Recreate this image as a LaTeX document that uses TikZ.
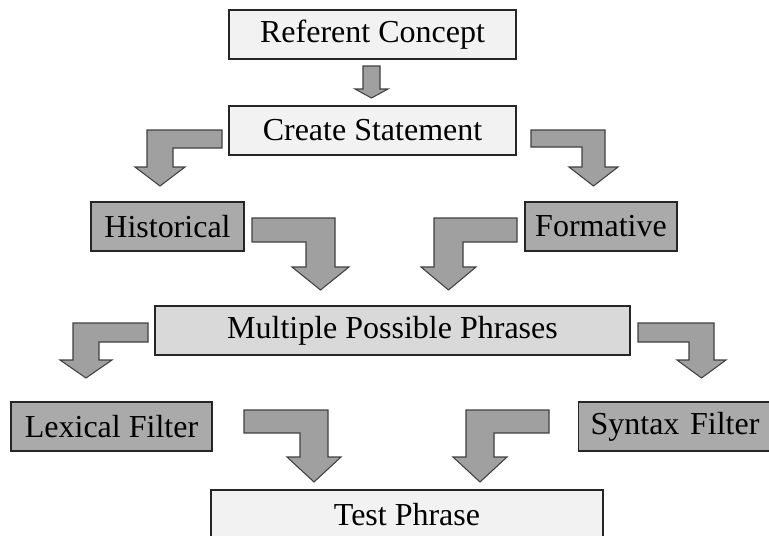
\documentclass[tikz,border=0pt]{standalone}
\usepackage{fontspec}
\setmainfont{Liberation Serif}
\definecolor{palebox}{HTML}{F2F2F2}
\definecolor{midbox}{HTML}{D9D9D9}
\definecolor{darkbox}{HTML}{AAAAAA}
\definecolor{arrowgray}{HTML}{A0A0A0}

\tikzset{
  stage/.style={draw=black!85, line width=0.9pt, inner sep=0pt, minimum height=36.75pt,
    font=\fontsize{24pt}{28pt}\selectfont},
  pale/.style={stage, fill=palebox},
  mid/.style={stage, fill=midbox},
  dark/.style={stage, fill=darkbox},
  blockarrow/.style={draw=black!75, line width=0.8pt, fill=arrowgray, line join=miter}
}

% bent block arrow: bar free end x, outer x, inner x, bar top y, bar bottom y,
% head y, tip y, head overhang (signed)
\newcommand{\bentarrow}[8]{%
  \draw [blockarrow] (#1,#4) -- (#2,#4) -- (#2,#6) -- ({#2+#8},#6)
    -- ({(#2+#3)/2},#7) -- ({#3-#8},#6) -- (#3,#6) -- (#3,#5) -- (#1,#5) -- cycle;}

\begin{document}
\begin{tikzpicture}[x=0.75pt, y=-0.75pt]
		\useasboundingbox (0,0) rectangle (769,536);

		\node [pale, minimum width=215.25pt] (referent) at (372.5, 34.5) {Referent Concept};
		\node [pale, minimum width=215.25pt] (create) at (372.5, 130.5) {Create Statement};
		\node [dark, minimum width=114.75pt] (historical) at (167.5, 226.5) {Historical};
		\node [dark, minimum width=114pt] (formative) at (601, 226.5) {Formative};
		\node [mid, minimum width=356.25pt] (phrases) at (392.5, 330.5) {Multiple Possible Phrases};
		\node [dark, minimum width=150.75pt] (lexical) at (111.5, 426.5) {Lexical Filter};
		\node [dark, anchor=west, inner xsep=9pt, text width=140pt, align=left] (syntax) at (578, 426.5) {Syntax Filter};
		\node [pale, minimum width=294pt] (test) at (407, 514.5) {Test Phrase};

		\draw [blockarrow] (363,66) -- (380,66) -- (380,89) -- (388,89) -- (371.5,98)
			-- (355,89) -- (363,89) -- cycle;

		\bentarrow{222}{147}{173}{130}{148}{167}{186}{-12}
		\bentarrow{531}{605}{582}{130}{147}{167}{186}{13}
		\bentarrow{252}{335}{306}{218}{242}{267}{290}{14}
		\bentarrow{517}{434}{463}{218}{242}{267}{290}{-13}
		\bentarrow{148}{73}{99}{323}{342}{360}{378}{-13}
		\bentarrow{638}{714}{689}{323}{342}{360}{378}{12}
		\bentarrow{244}{328}{300}{410}{433}{457}{482}{13}
		\bentarrow{549}{466}{494}{410}{433}{457}{482}{-13}

	\end{tikzpicture}
\end{document}
